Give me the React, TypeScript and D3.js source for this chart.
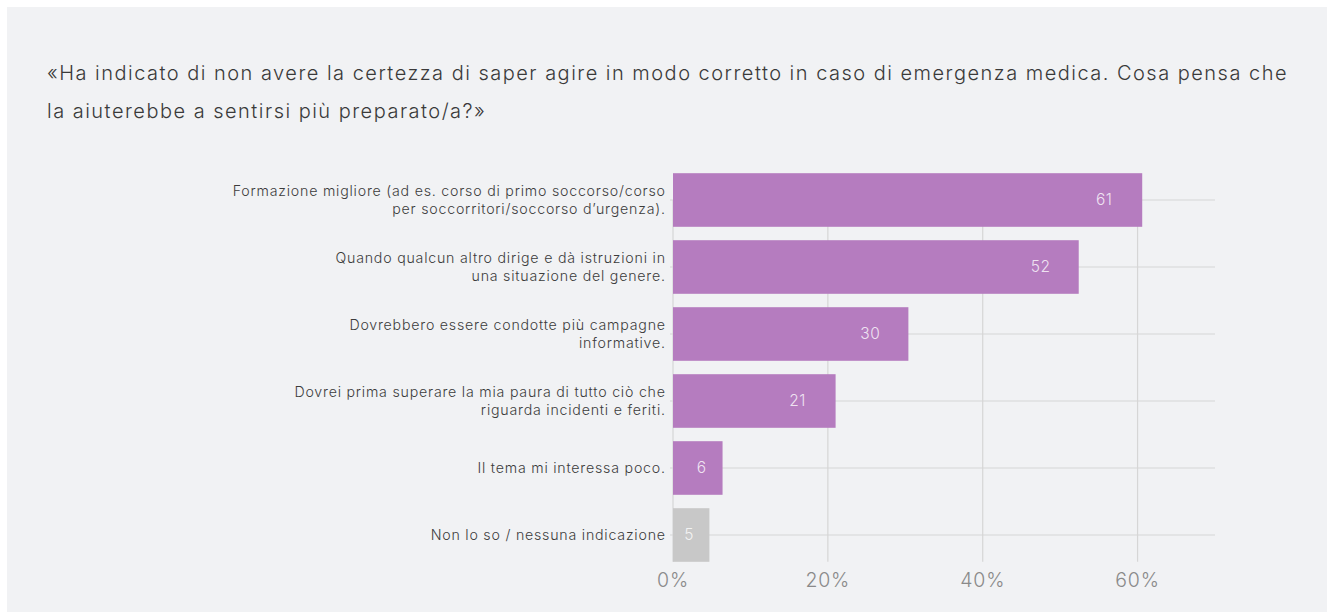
import React, { useLayoutEffect, useRef, useState } from "react";
import * as d3 from "d3";

const titleLines = [
  "«Ha indicato di non avere la certezza di saper agire in modo corretto in caso di emergenza medica. Cosa pensa che",
  "la aiuterebbe a sentirsi più preparato/a?»",
];

const categories = [
  ["Formazione migliore (ad es. corso di primo soccorso/corso", "per soccorritori/soccorso d’urgenza)."],
  ["Quando qualcun altro dirige e dà istruzioni in", "una situazione del genere."],
  ["Dovrebbero essere condotte più campagne", "informative."],
  ["Dovrei prima superare la mia paura di tutto ciò che", "riguarda incidenti e feriti."],
  ["Il tema mi interessa poco."],
  ["Non lo so / nessuna indicazione"],
];
const values = [60.6, 52.4, 30.4, 21.0, 6.4, 4.7];
const valueLabels = ["61", "52", "30", "21", "6", "5"];
const isNeutral = [false, false, false, false, false, true];
const xTicks = [0, 20, 40, 60];

const W = 1327;
const H = 612;
const TITLE_TARGET = 1241;
const LABEL_TARGET = 433;

export default function App() {
  const titleRef = useRef<SVGTextElement>(null);
  const labelRef = useRef<SVGTSpanElement>(null);
  const [titleLS, setTitleLS] = useState(0);
  const [labelLS, setLabelLS] = useState(0);

  useLayoutEffect(() => {
    if (titleRef.current) {
      const w = titleRef.current.getComputedTextLength();
      const n = titleLines[0].length;
      setTitleLS(Math.max(0, (TITLE_TARGET - w) / n));
    }
    if (labelRef.current) {
      const w = labelRef.current.getComputedTextLength();
      const n = categories[0][0].length;
      setLabelLS(Math.max(0, (LABEL_TARGET - w) / n));
    }
  }, []);

  const x = d3.scaleLinear().domain([0, 70]).range([673, 1215]);
  const y = d3
    .scaleBand<number>()
    .domain(d3.range(categories.length))
    .range([166.5, 568.5])
    .paddingInner(0.2)
    .paddingOuter(0.1);
  const bw = y.bandwidth();
  const gridTop = (y(0) as number) + bw / 2;
  const gridBottom = (y(categories.length - 1) as number) + bw;
  const font = "Inter, Roboto, sans-serif";

  return (
    <svg
      width={W}
      height={H}
      style={{ position: "absolute", left: 0, top: 0 }}
      fontFamily={font}
    >
      <rect x={0} y={0} width={W} height={H} fill="#ffffff" />
      <rect x={7} y={7} width={W - 7} height={H - 7} fill="#f1f2f4" />
      {titleLines.map((t, i) => (
        <text
          key={i}
          ref={i === 0 ? titleRef : undefined}
          x={47}
          y={80 + i * 38}
          fontSize={20}
          fontWeight={300}
          letterSpacing={i === 0 && titleLS === 0 ? 0 : titleLS}
          fill="#3a3a3a"
        >
          {t}
        </text>
      ))}
      {xTicks.map((t) => (
        <line
          key={"v" + t}
          x1={x(t)}
          x2={x(t)}
          y1={gridTop}
          y2={gridBottom}
          stroke="#d6d6d6"
          strokeWidth={1.2}
        />
      ))}
      {categories.map((_, i) => {
        const cy = (y(i) as number) + bw / 2;
        return (
          <line
            key={"h" + i}
            x1={x(0) - 3}
            x2={x(70)}
            y1={cy}
            y2={cy}
            stroke="#d6d6d6"
            strokeWidth={1.2}
          />
        );
      })}
      {values.map((v, i) => (
        <rect
          key={"b" + i}
          x={x(0)}
          y={y(i) as number}
          width={x(v) - x(0)}
          height={bw}
          fill={isNeutral[i] ? "#c8c8c8" : "#b57cbf"}
        />
      ))}
      {values.map((v, i) => {
        const end = x(v);
        const mid = (x(0) + end) / 2;
        const cx = Math.max(mid + (v > 5 ? 4 : -2), end - 38);
        return (
          <text
            key={"l" + i}
            x={cx}
            y={(y(i) as number) + bw / 2}
            dy="0.35em"
            textAnchor="middle"
            fontSize={15.5}
            fontWeight={300}
            letterSpacing={0.6}
            fill="#ffffff"
            fillOpacity={0.8}
          >
            {valueLabels[i]}
          </text>
        );
      })}
      {categories.map((lines, i) => {
        const cy = (y(i) as number) + bw / 2;
        const lh = 18.5;
        const start = cy - ((lines.length - 1) * lh) / 2;
        return (
          <text
            key={"c" + i}
            textAnchor="end"
            fontSize={14.2}
            fontWeight={300}
            letterSpacing={labelLS}
            fill="#3c3c3c"
          >
            {lines.map((ln, j) => (
              <tspan
                key={j}
                ref={i === 0 && j === 0 ? labelRef : undefined}
                x={665 + labelLS}
                y={start + j * lh}
                dy="0.35em"
              >
                {ln}
              </tspan>
            ))}
          </text>
        );
      })}
      {xTicks.map((t) => (
        <text
          key={"t" + t}
          x={x(t)}
          y={587}
          textAnchor="middle"
          fontSize={19.5}
          fontWeight={300}
          letterSpacing={0.8}
          fill="#8a8a8a"
        >
          {t + "%"}
        </text>
      ))}
    </svg>
  );
}
